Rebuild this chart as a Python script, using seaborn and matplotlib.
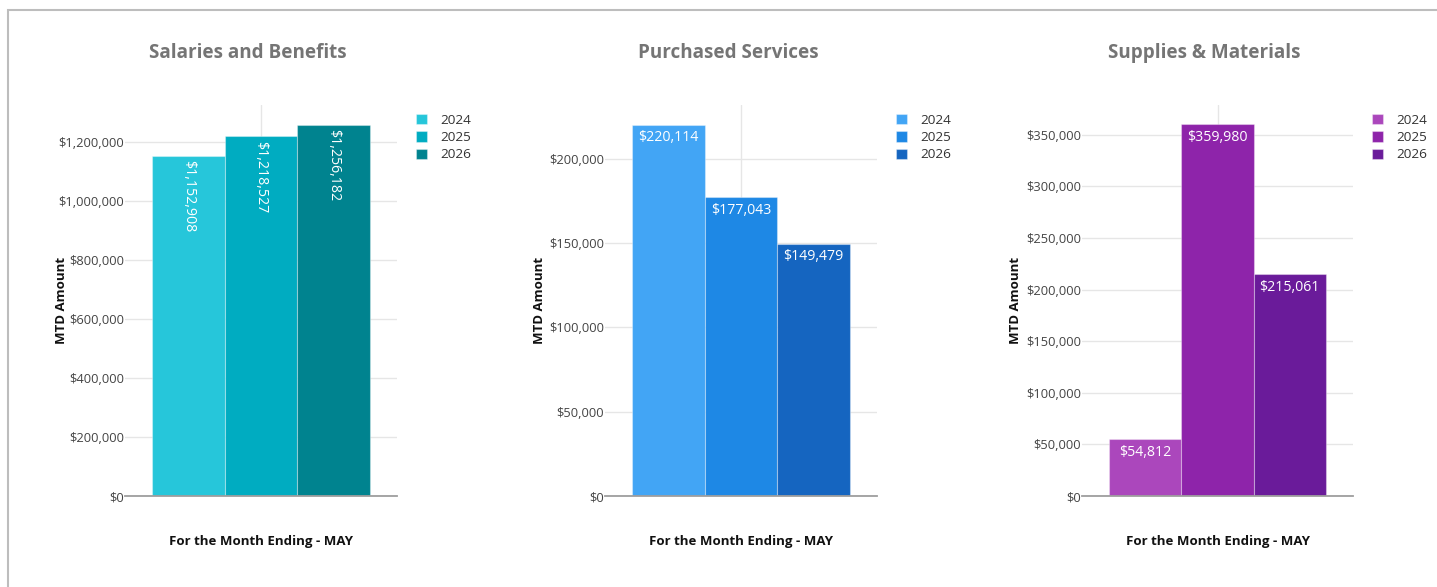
import pandas as pd
import numpy as np
import seaborn as sns
import matplotlib.pyplot as plt
import matplotlib.patches as patches
from matplotlib.ticker import FuncFormatter

# ---- data ----
months = ["MAY"]
years = ["2024", "2025", "2026"]

salaries = [1152908, 1218527, 1256182]
purchased = [220114, 177043, 149479]
supplies = [54812, 359980, 215061]

titles = ["Salaries and Benefits", "Purchased Services", "Supplies & Materials"]
values = [salaries, purchased, supplies]

y_ticks = [
    [0, 200000, 400000, 600000, 800000, 1000000, 1200000],
    [0, 50000, 100000, 150000, 200000],
    [0, 50000, 100000, 150000, 200000, 250000, 300000, 350000],
]
y_max = [1324700, 231800, 378700]

palettes = [
    ["#26C6DA", "#00ACC1", "#00838F"],
    ["#42A5F5", "#1E88E5", "#1565C0"],
    ["#AB47BC", "#8E24AA", "#6A1B9A"],
]

sns.set_style("white")
plt.rcParams['font.family'] = ['Open Sans', 'DejaVu Sans']

fig = plt.figure(figsize=(14.37, 5.87), dpi=100)
W, H = 1437, 587

# axes boxes in pixels (left, right), shared top/bottom
ax_lr = [(125, 397), (605, 877), (1082, 1353)]
top_px, bot_px = 105, 496
ylabel_x = [-0.235, -0.239, -0.247]
title_cx = [248, 728, 1204]

money = FuncFormatter(lambda v, p: f"${v:,.0f}")

for i in range(3):
    l, r = ax_lr[i]
    ax = fig.add_axes([l / W, 1 - bot_px / H, (r - l) / W, (bot_px - top_px) / H])

    df = pd.DataFrame({
        "month": months * len(years),
        "year": years,
        "amount": values[i],
    })
    sns.barplot(data=df, x="month", y="amount", hue="year",
                palette=palettes[i], width=0.8, saturation=1,
                edgecolor=(1, 1, 1, 0.35), linewidth=0.8, ax=ax, zorder=3)

    ax.set_xlim(-0.5, 0.5)
    ax.set_ylim(0, y_max[i])
    ax.set_yticks(y_ticks[i])
    ax.yaxis.set_major_formatter(money)
    ax.tick_params(axis='y', length=0, pad=0.5, labelsize=9.3, labelcolor="#444444")
    ax.set_xticks([0])
    ax.set_xticklabels([])
    ax.tick_params(axis='x', length=0)

    ax.grid(True, color="#e6e6e6", linewidth=1, zorder=0)
    ax.set_axisbelow(True)
    for s in ["top", "right", "left"]:
        ax.spines[s].set_visible(False)
    ax.spines["bottom"].set_color("#9e9e9e")
    ax.spines["bottom"].set_linewidth(1.3)
    ax.spines["bottom"].set_zorder(4)

    # value labels inside the top of each bar
    for bar, v in zip(ax.patches, values[i]):
        cx = bar.get_x() + bar.get_width() / 2
        if i == 0:
            ax.annotate(f"${v:,.0f}", (cx, bar.get_height()), xytext=(0, -3),
                        textcoords="offset points", ha="center", va="top",
                        rotation=270, color="white", fontsize=10.2, zorder=5)
        else:
            ax.annotate(f"${v:,.0f}", (cx, bar.get_height()), xytext=(0, -4),
                        textcoords="offset points", ha="center", va="top",
                        color="white", fontsize=10.2, zorder=5)

    ax.set_xlabel("For the Month Ending - MAY", fontsize=9.5, fontweight="bold",
                  color="#111111")
    ax.xaxis.set_label_coords(0.5, -0.117)
    ax.xaxis.label.set_va("center")
    ax.set_ylabel("MTD Amount", fontsize=9.5, fontweight="bold", color="#111111")
    ax.yaxis.set_label_coords(ylabel_x[i], 0.5)
    ax.yaxis.label.set_va("center")

    leg = ax.legend(loc="upper left", bbox_to_anchor=(1.07, 0.978), frameon=False,
                    fontsize=9.7, handlelength=0.82, handleheight=0.82,
                    handletextpad=1.0, labelspacing=0.33, borderpad=0,
                    borderaxespad=0, title=None)
    for t in leg.get_texts():
        t.set_color("#333333")
    for h in leg.legend_handles:
        h.set_edgecolor((1, 1, 1, 0.35))

    fig.text(title_cx[i] / W, 1 - 53 / H, titles[i], ha="center", va="center",
             fontsize=13.6, fontweight="bold", color="#757575")

# outer border of the dashboard tile (top and left edges visible)
border = patches.Rectangle((8 / W, -0.05), 1.2, 1 - 10 / H + 0.05,
                           transform=fig.transFigure, fill=False,
                           edgecolor="#bdbdbd", linewidth=1.5, clip_on=False)
fig.patches.append(border)

fig.savefig("out.png", dpi=100)
